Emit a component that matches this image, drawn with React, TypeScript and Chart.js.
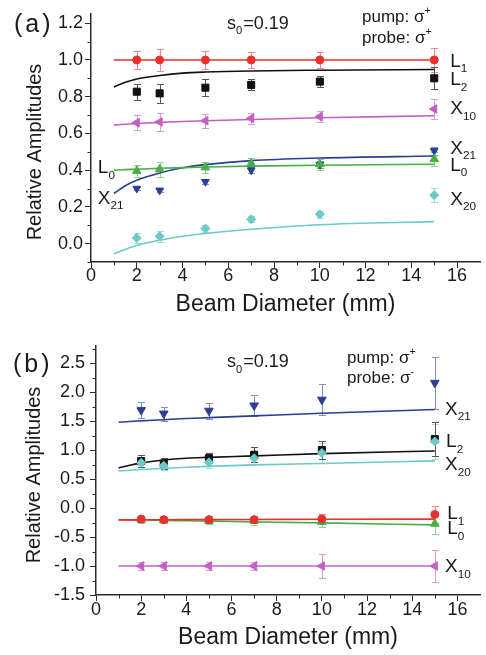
import React, { useEffect, useRef } from 'react';
import { Chart, registerables } from 'chart.js';

Chart.register(...registerables);

const FONT = '"Liberation Sans", Arial, Helvetica, sans-serif';
const TEXT = '#1a1a1a';
const AXIS = '#2a2a2a';

// ---------- shared x data ----------
const xPoints = [2, 3, 5, 7, 10, 15];
const xFit = [1, 1.5, 2, 3, 4, 5, 7, 10, 15];
const xTicks = [0, 2, 4, 6, 8, 10, 12, 14, 16];
const xMinor = [1, 3, 5, 7, 9, 11, 13, 15];

// ---------- panel (a) ----------
const aYTicks = [0, 0.2, 0.4, 0.6, 0.8, 1.0, 1.2];
const aYMinor = [-0.1, 0.1, 0.3, 0.5, 0.7, 0.9, 1.1];

const aL1 = [1.0, 1.0, 1.0, 1.0, 1.0, 1.0];
const aL1Err = [0.05, 0.06, 0.05, 0.045, 0.045, 0.065];
const aL1Fit = [1.0, 1.0, 1.0, 1.0, 1.0, 1.0, 1.0, 1.0, 1.0];

const aL2 = [0.827, 0.818, 0.849, 0.864, 0.882, 0.9];
const aL2Err = [0.043, 0.05, 0.045, 0.03, 0.03, 0.06];
const aL2Fit = [0.853, 0.878, 0.896, 0.915, 0.928, 0.934, 0.94, 0.944, 0.948];

const aX10 = [0.658, 0.662, 0.669, 0.682, 0.691, 0.733];
const aX10Err = [0.04, 0.048, 0.038, 0.03, 0.03, 0.055];
const aX10Fit = [0.645, 0.65, 0.654, 0.66, 0.665, 0.669, 0.676, 0.685, 0.696];

const aL0 = [0.396, 0.405, 0.415, 0.436, 0.432, 0.46];
const aL0Err = [0.032, 0.04, 0.03, 0.03, 0.03, 0.04];
const aL0Fit = [0.4, 0.403, 0.405, 0.41, 0.414, 0.417, 0.422, 0.427, 0.432];

const aX21 = [0.3, 0.29, 0.337, 0.4, 0.43, 0.505];
const aX21Err = [0.01, 0.01, 0.01, 0.015, 0.02, 0.02];
const aX21Fit = [0.273, 0.315, 0.345, 0.385, 0.413, 0.43, 0.452, 0.466, 0.477];

const aX20 = [0.031, 0.04, 0.082, 0.133, 0.16, 0.264];
const aX20Err = [0.025, 0.03, 0.02, 0.015, 0.02, 0.04];
const aX20Fit = [-0.055, -0.03, -0.01, 0.018, 0.04, 0.055, 0.078, 0.103, 0.12];

// ---------- panel (b) ----------
const bYTicks = [-1.5, -1.0, -0.5, 0.0, 0.5, 1.0, 1.5, 2.0, 2.5];
const bYMinor = [-1.25, -0.75, -0.25, 0.25, 0.75, 1.25, 1.75, 2.25, 2.75];

const bX21 = [1.69, 1.63, 1.68, 1.77, 1.87, 2.16];
const bX21Err = [0.14, 0.12, 0.14, 0.18, 0.27, 0.45];
const bX21Fit = [1.48, 1.495, 1.505, 1.525, 1.545, 1.56, 1.59, 1.635, 1.7];

const bL2 = [0.81, 0.77, 0.86, 0.92, 1.0, 1.19];
const bL2Err = [0.1, 0.09, 0.09, 0.13, 0.16, 0.3];
const bL2Fit = [0.69, 0.74, 0.78, 0.83, 0.86, 0.875, 0.9, 0.94, 0.985];

const bX20 = [0.78, 0.73, 0.79, 0.86, 0.95, 1.15];
const bX20Err = [0.1, 0.08, 0.09, 0.1, 0.18, 0.3];
const bX20Fit = [0.64, 0.653, 0.665, 0.685, 0.705, 0.72, 0.745, 0.77, 0.815];

const bL1 = [-0.19, -0.2, -0.2, -0.2, -0.19, -0.11];
const bL1Err = [0.06, 0.05, 0.06, 0.06, 0.08, 0.15];
const bL1Fit = [-0.205, -0.204, -0.203, -0.201, -0.2, -0.199, -0.197, -0.194, -0.19];

const bL0 = [-0.2, -0.21, -0.22, -0.22, -0.24, -0.27];
const bL0Err = [0.05, 0.04, 0.05, 0.07, 0.09, 0.17];
const bL0Fit = [-0.2, -0.204, -0.207, -0.214, -0.22, -0.226, -0.238, -0.256, -0.29];

const bX10 = [-1.0, -1.0, -1.0, -1.0, -1.0, -1.0];
const bX10Err = [0.07, 0.07, 0.07, 0.07, 0.2, 0.28];
const bX10Fit = [-1.0, -1.0, -1.0, -1.0, -1.0, -1.0, -1.0, -1.0, -1.0];

// ---------- styles ----------
const C = {
  red: { c: '#e8312f', e: '#f08a88' },
  black: { c: '#111111', e: '#555555' },
  magenta: { c: '#c45fbf', e: '#dc9ad8' },
  green: { c: '#45b045', e: '#8fd08f' },
  navy: { c: '#2c3e94', e: '#8090c8' },
  cyan: { c: '#6ccaca', e: '#9fdede' },
};

type Series = {
  pts: number[];
  err: number[];
  fit: number[];
  col: { c: string; e: string };
  style: string;
  rot: number;
  r: number;
};

function buildDatasets(series: Series[]) {
  const pts = series.map((s) => ({
    type: 'scatter',
    data: xPoints.map((x, i) => ({ x, y: s.pts[i] })),
    errors: s.err,
    errColor: s.col.e,
    pointStyle: s.style,
    pointRotation: s.rot,
    pointRadius: s.r,
    pointHoverRadius: s.r,
    backgroundColor: s.col.c,
    borderColor: s.col.c,
    borderWidth: 1,
    showLine: false,
    order: 0,
  }));
  const fits = series.map((s) => ({
    type: 'line',
    data: xFit.map((x, i) => ({ x, y: s.fit[i] })),
    borderColor: s.col.c,
    backgroundColor: s.col.c,
    borderWidth: 1.6,
    pointRadius: 0,
    cubicInterpolationMode: 'monotone',
    fill: false,
    order: 1,
  }));
  return [...pts, ...fits];
}

type Seg = { t: string; sub?: boolean; sup?: boolean };

function drawSegs(ctx: CanvasRenderingContext2D, x: number, y: number, segs: Seg[], size: number) {
  let cx = x;
  ctx.textAlign = 'left';
  ctx.textBaseline = 'alphabetic';
  for (const s of segs) {
    const small = s.sub || s.sup;
    const fs = small ? size * 0.62 : size;
    ctx.font = `${fs}px ${FONT}`;
    const dy = s.sub ? size * 0.3 : s.sup ? -size * 0.45 : 0;
    ctx.fillText(s.t, cx, y + dy);
    cx += ctx.measureText(s.t).width + (small ? 1 : 0);
  }
}

const errorBarPlugin = {
  id: 'errbars',
  beforeDatasetsDraw(chart: any) {
    const { ctx } = chart;
    const xs = chart.scales.x;
    const ys = chart.scales.y;
    chart.data.datasets.forEach((ds: any) => {
      if (!ds.errors) return;
      ctx.save();
      ctx.strokeStyle = ds.errColor;
      ctx.lineWidth = 1;
      ds.data.forEach((p: any, i: number) => {
        const e = ds.errors[i];
        const px = Math.round(xs.getPixelForValue(p.x)) + 0.5;
        const top = Math.round(ys.getPixelForValue(p.y + e)) + 0.5;
        const bot = Math.round(ys.getPixelForValue(p.y - e)) + 0.5;
        ctx.beginPath();
        ctx.moveTo(px, top);
        ctx.lineTo(px, bot);
        ctx.moveTo(px - 3.5, top);
        ctx.lineTo(px + 3.5, top);
        ctx.moveTo(px - 3.5, bot);
        ctx.lineTo(px + 3.5, bot);
        ctx.stroke();
      });
      ctx.restore();
    });
  },
};

const decorPlugin = {
  id: 'decor',
  afterDraw(chart: any, _args: any, opts: any) {
    const { ctx, chartArea } = chart;
    const xs = chart.scales.x;
    const ys = chart.scales.y;
    ctx.save();
    // minor ticks
    ctx.strokeStyle = AXIS;
    ctx.lineWidth = 1;
    ctx.beginPath();
    (opts.xMinor || []).forEach((v: number) => {
      const px = Math.round(xs.getPixelForValue(v)) + 0.5;
      ctx.moveTo(px, chartArea.bottom);
      ctx.lineTo(px, chartArea.bottom + 3.5);
    });
    (opts.yMinor || []).forEach((v: number) => {
      const py = Math.round(ys.getPixelForValue(v)) + 0.5;
      ctx.moveTo(chartArea.left, py);
      ctx.lineTo(chartArea.left - 3.5, py);
    });
    ctx.stroke();

    ctx.fillStyle = TEXT;
    // panel letter
    if (opts.panel) {
      ctx.font = `25px ${FONT}`;
      (ctx as any).letterSpacing = '3px';
      ctx.textAlign = 'left';
      ctx.textBaseline = 'alphabetic';
      ctx.fillText(opts.panel.t, opts.panel.x, opts.panel.y);
      (ctx as any).letterSpacing = '0px';
    }
    // y title
    if (opts.yTitle) {
      ctx.save();
      ctx.translate(opts.yTitle.x, opts.yTitle.y);
      ctx.rotate(-Math.PI / 2);
      ctx.font = `20px ${FONT}`;
      ctx.textAlign = 'center';
      ctx.textBaseline = 'middle';
      ctx.fillText(opts.yTitle.t, 0, 0);
      ctx.restore();
    }
    // free texts (pixel positions)
    (opts.texts || []).forEach((t: any) => drawSegs(ctx, t.x, t.y, t.segs, t.size));
    // series labels (data positions)
    (opts.labels || []).forEach((l: any) => {
      const px = xs.getPixelForValue(l.x);
      const py = ys.getPixelForValue(l.y);
      drawSegs(ctx, px, py + 0.358 * 19, l.segs, 19);
    });
    ctx.restore();
  },
};

function makeConfig(p: {
  series: Series[];
  yMin: number;
  yMax: number;
  yTicks: number[];
  yMinor: number[];
  yWidth: number;
  xHeight: number;
  padTop: number;
  padRight: number;
  yPad: number;
  xPad: number;
  titlePadBottom: number;
  decor: any;
}) {
  return {
    type: 'scatter',
    data: { datasets: buildDatasets(p.series) },
    options: {
      animation: false,
      responsive: false,
      devicePixelRatio: 1,
      layout: { padding: { top: p.padTop, right: p.padRight, left: 0, bottom: 0 } },
      plugins: {
        legend: { display: false },
        tooltip: { enabled: false },
        decor: p.decor,
      },
      scales: {
        x: {
          type: 'linear',
          min: 0,
          max: 17,
          afterBuildTicks: (s: any) => {
            s.ticks = xTicks.map((v) => ({ value: v }));
          },
          afterFit: (s: any) => {
            s.height = p.xHeight;
          },
          grid: { drawOnChartArea: false, drawTicks: true, tickLength: 6, color: AXIS, tickWidth: 1 },
          border: { display: true, color: AXIS, width: 1.5 },
          ticks: {
            font: { size: 18, family: FONT },
            color: TEXT,
            padding: p.xPad,
            maxRotation: 0,
            autoSkip: false,
            callback: (v: any) => String(v),
          },
          title: {
            display: true,
            text: 'Beam Diameter (mm)',
            font: { size: 23, family: FONT },
            color: TEXT,
            padding: { top: 0, bottom: p.titlePadBottom },
          },
        },
        y: {
          type: 'linear',
          min: p.yMin,
          max: p.yMax,
          afterBuildTicks: (s: any) => {
            s.ticks = p.yTicks.map((v) => ({ value: v }));
          },
          afterFit: (s: any) => {
            s.width = p.yWidth;
          },
          grid: { drawOnChartArea: false, drawTicks: true, tickLength: 6, color: AXIS, tickWidth: 1 },
          border: { display: true, color: AXIS, width: 1.5 },
          ticks: {
            font: { size: 18, family: FONT },
            color: TEXT,
            padding: p.yPad,
            autoSkip: false,
            callback: (v: any) => Number(v).toFixed(1),
          },
        },
      },
    },
    plugins: [errorBarPlugin, decorPlugin],
  };
}

const L = (a: string, b: string): Seg[] => [{ t: a }, { t: b, sub: true }];

const seriesA: Series[] = [
  { pts: aL1, err: aL1Err, fit: aL1Fit, col: C.red, style: 'circle', rot: 0, r: 4 },
  { pts: aL2, err: aL2Err, fit: aL2Fit, col: C.black, style: 'rect', rot: 0, r: 5 },
  { pts: aX10, err: aX10Err, fit: aX10Fit, col: C.magenta, style: 'triangle', rot: 270, r: 5 },
  { pts: aL0, err: aL0Err, fit: aL0Fit, col: C.green, style: 'triangle', rot: 0, r: 5 },
  { pts: aX21, err: aX21Err, fit: aX21Fit, col: C.navy, style: 'triangle', rot: 180, r: 4.5 },
  { pts: aX20, err: aX20Err, fit: aX20Fit, col: C.cyan, style: 'rectRot', rot: 0, r: 4.5 },
];

const seriesB: Series[] = [
  { pts: bX21, err: bX21Err, fit: bX21Fit, col: C.navy, style: 'triangle', rot: 180, r: 5 },
  { pts: bX20, err: bX20Err, fit: bX20Fit, col: C.cyan, style: 'rectRot', rot: 0, r: 4.5 },
  { pts: bL2, err: bL2Err, fit: bL2Fit, col: C.black, style: 'rect', rot: 0, r: 5 },
  { pts: bL1, err: bL1Err, fit: bL1Fit, col: C.red, style: 'circle', rot: 0, r: 4 },
  { pts: bL0, err: bL0Err, fit: bL0Fit, col: C.green, style: 'triangle', rot: 0, r: 5 },
  { pts: bX10, err: bX10Err, fit: bX10Fit, col: C.magenta, style: 'triangle', rot: 270, r: 5 },
];

const configA = () =>
  makeConfig({
    series: seriesA,
    yMin: -0.1,
    yMax: 1.25,
    yTicks: aYTicks,
    yMinor: aYMinor,
    yWidth: 91,
    xHeight: 68,
    padTop: 14,
    padRight: 3,
    yPad: 2,
    xPad: -3,
    titlePadBottom: 11.2,
    decor: {
      xMinor,
      yMinor: aYMinor,
      panel: { t: '(a)', x: 14, y: 32 },
      yTitle: { t: 'Relative Amplitudes', x: 35, y: 152 },
      texts: [
        { x: 227, y: 28.5, size: 18, segs: [{ t: 's' }, { t: '0', sub: true }, { t: '=0.19' }] },
        { x: 362, y: 22, size: 17, segs: [{ t: 'pump: σ' }, { t: '+', sup: true }] },
        { x: 362, y: 43, size: 17, segs: [{ t: 'probe: σ' }, { t: '+', sup: true }] },
      ],
      labels: [
        { x: 15.7, y: 1.0, segs: L('L', '1') },
        { x: 15.7, y: 0.9, segs: L('L', '2') },
        { x: 15.7, y: 0.74, segs: L('X', '10') },
        { x: 15.7, y: 0.527, segs: L('X', '21') },
        { x: 15.7, y: 0.434, segs: L('L', '0') },
        { x: 15.7, y: 0.25, segs: L('X', '20') },
        { x: 0.3, y: 0.42, segs: L('L', '0') },
        { x: 0.3, y: 0.255, segs: L('X', '21') },
      ],
    },
  });

const configB = () =>
  makeConfig({
    series: seriesB,
    yMin: -1.5,
    yMax: 2.8,
    yTicks: bYTicks,
    yMinor: bYMinor,
    yWidth: 96,
    xHeight: 60,
    padTop: 14.2,
    padRight: 0,
    yPad: 5,
    xPad: -2,
    titlePadBottom: 3.2,
    decor: {
      xMinor,
      yMinor: bYMinor,
      panel: { t: '(b)', x: 13, y: 41.7 },
      yTitle: { t: 'Relative Amplitudes', x: 34, y: 145 },
      texts: [
        { x: 227, y: 37.3, size: 18, segs: [{ t: 's' }, { t: '0', sub: true }, { t: '=0.19' }] },
        { x: 347, y: 32.7, size: 17, segs: [{ t: 'pump: σ' }, { t: '+', sup: true }] },
        { x: 347, y: 52.7, size: 17, segs: [{ t: 'probe: σ' }, { t: '-', sup: true }] },
      ],
      labels: [
        { x: 15.45, y: 1.73, segs: L('X', '21') },
        { x: 15.5, y: 1.17, segs: L('L', '2') },
        { x: 15.45, y: 0.77, segs: L('X', '20') },
        { x: 15.55, y: -0.076, segs: L('L', '1') },
        { x: 15.55, y: -0.33, segs: L('L', '0') },
        { x: 15.45, y: -0.99, segs: L('X', '10') },
      ],
    },
  });

function Panel({ top, height, config }: { top: number; height: number; config: () => any }) {
  const ref = useRef<HTMLCanvasElement | null>(null);
  useEffect(() => {
    if (!ref.current) return;
    const chart = new Chart(ref.current, config());
    return () => chart.destroy();
  }, [config]);
  return (
    <canvas
      ref={ref}
      width={486}
      height={height}
      style={{ position: 'absolute', left: 0, top, width: 486, height, display: 'block' }}
    />
  );
}

export default function App() {
  return (
    <div style={{ position: 'absolute', left: 0, top: 0, width: 486, height: 655, background: '#fff', overflow: 'hidden' }}>
      <Panel top={0} height={330} config={configA} />
      <Panel top={330} height={325} config={configB} />
    </div>
  );
}
